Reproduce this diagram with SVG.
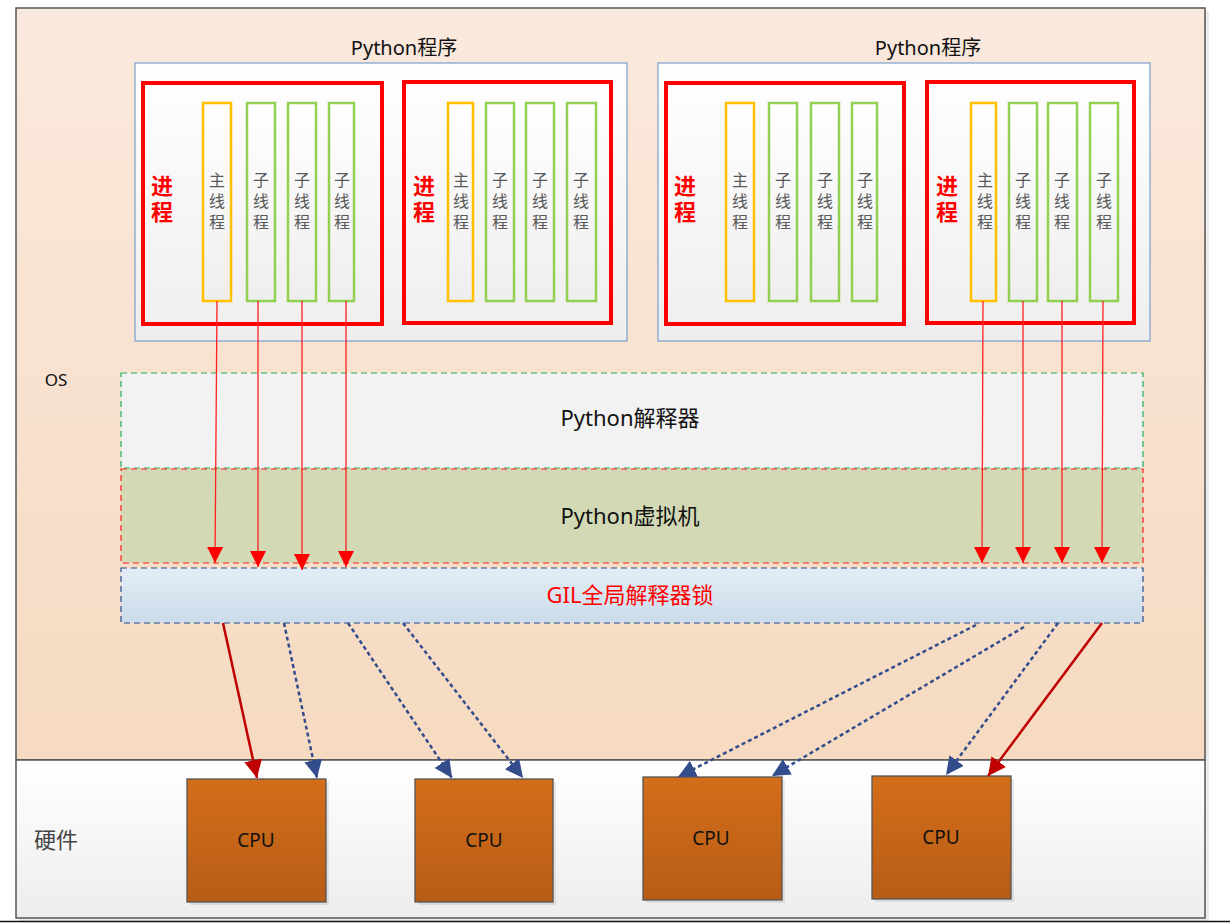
<svg xmlns="http://www.w3.org/2000/svg" width="1230" height="923" viewBox="0 0 1230 923">
<defs>
<linearGradient id="gOS" x1="0" y1="0" x2="0" y2="1"><stop offset="0" stop-color="#fae9dd"/><stop offset="1" stop-color="#f6dac1"/></linearGradient>
<linearGradient id="gHW" x1="0" y1="0" x2="0" y2="1"><stop offset="0" stop-color="#ffffff"/><stop offset="1" stop-color="#ededed"/></linearGradient>
<linearGradient id="gWhite" x1="0" y1="0" x2="0" y2="1"><stop offset="0" stop-color="#ffffff"/><stop offset="1" stop-color="#eeeeee"/></linearGradient>
<linearGradient id="gGIL" x1="0" y1="0" x2="0" y2="1"><stop offset="0" stop-color="#e3ecf6"/><stop offset="1" stop-color="#cbdcea"/></linearGradient>
<linearGradient id="gCPU" x1="0" y1="0" x2="0" y2="1"><stop offset="0" stop-color="#d36e1a"/><stop offset="1" stop-color="#b75c16"/></linearGradient>
<marker id="aRed" viewBox="0 0 16 16" refX="16" refY="8" markerWidth="16" markerHeight="16" orient="auto" markerUnits="userSpaceOnUse"><path d="M0,0 L16,8 L0,16 z" fill="#ff0000"/></marker>
<marker id="aDark" viewBox="0 0 16 16" refX="16" refY="8" markerWidth="18" markerHeight="18" orient="auto" markerUnits="userSpaceOnUse"><path d="M0,0 L16,8 L0,16 z" fill="#c00000"/></marker>
<marker id="aBlue" viewBox="0 0 16 16" refX="16" refY="8" markerWidth="18" markerHeight="18" orient="auto" markerUnits="userSpaceOnUse"><path d="M0,0 L16,8 L0,16 z" fill="#334d8c"/></marker>
</defs>
<style>
text{font-family:"Noto Sans","Noto Sans CJK SC",sans-serif;}
.title{font-size:20px;fill:#111;text-anchor:middle;}
.prog{fill:url(#gWhite);stroke:#7b9fcc;stroke-width:1.2;}
.proc{fill:none;stroke:#ff0000;stroke-width:4;}
.procT{font-size:22px;font-weight:bold;fill:#ff0000;text-anchor:middle;font-family:"Noto Sans CJK SC",sans-serif;writing-mode:vertical-rl;letter-spacing:4px;}
.main{fill:url(#gWhite);stroke:#ffc000;stroke-width:2.5;}
.sub{fill:url(#gWhite);stroke:#92d050;stroke-width:2.5;}
.thT{font-size:16px;fill:#595959;text-anchor:middle;font-family:"Noto Sans CJK SC",sans-serif;writing-mode:vertical-rl;letter-spacing:5px;}
.shadow{fill:#000;opacity:0.08;}
.layT{font-size:22px;fill:#111;text-anchor:middle;}
.cpu{fill:url(#gCPU);stroke:#555;stroke-width:1.3;}
.cpuT{font-size:19px;fill:#111;text-anchor:middle;}
.vline{stroke:#ff2020;stroke-width:1.3;fill:none;marker-end:url(#aRed);}
.rline{stroke:#c00000;stroke-width:2.5;fill:none;marker-end:url(#aDark);}
.bline{stroke:#334d8c;stroke-width:2.5;stroke-dasharray:4 3;fill:none;marker-end:url(#aBlue);}
</style>
<rect width="1230" height="923" fill="#ffffff"/>
<g id="os">
<rect x="19" y="11" width="1190" height="752" fill="#000" opacity="0.08"/>
<rect x="16" y="8" width="1189" height="752" fill="url(#gOS)" stroke="#555" stroke-width="1.5"/>
<text x="56" y="386" font-size="17" fill="#111" text-anchor="middle">OS</text>
</g>
<g id="hardware">
<rect x="19" y="763" width="1190" height="158" fill="#000" opacity="0.08"/>
<rect x="16" y="760" width="1189" height="158" fill="url(#gHW)" stroke="#555" stroke-width="1.5"/>
<text x="56" y="848" font-size="22" fill="#444" text-anchor="middle" font-family="Noto Sans CJK SC,sans-serif">硬件</text>
</g>
<line x1="0" y1="921.5" x2="1230" y2="921.5" stroke="#111" stroke-width="1.5"/>

<g id="program1">
<text class="title" x="404" y="55">Python程序</text>
<rect class="prog" x="135" y="63" width="492" height="278"/>
<g id="process1">
<rect class="proc" x="143" y="83" width="239" height="241"/>
<text class="procT" x="162" y="201">进程</text>
<g id="t1m"><rect class="main" x="203" y="103" width="28" height="198"/><text class="thT" x="217" y="203">主线程</text></g>
<g id="t1a"><rect class="sub" x="247" y="103" width="28" height="198"/><text class="thT" x="261" y="203">子线程</text></g>
<g id="t1b"><rect class="sub" x="288" y="103" width="28" height="198"/><text class="thT" x="302" y="203">子线程</text></g>
<g id="t1c"><rect class="sub" x="329" y="103" width="25" height="198"/><text class="thT" x="342" y="203">子线程</text></g>
</g>
<g id="process2">
<rect class="proc" x="404" y="82" width="207" height="241"/>
<text class="procT" x="424" y="201">进程</text>
<g id="t2m"><rect class="main" x="448" y="103" width="25" height="198"/><text class="thT" x="461" y="203">主线程</text></g>
<g id="t2a"><rect class="sub" x="486" y="103" width="28" height="198"/><text class="thT" x="500" y="203">子线程</text></g>
<g id="t2b"><rect class="sub" x="526" y="103" width="28" height="198"/><text class="thT" x="540" y="203">子线程</text></g>
<g id="t2c"><rect class="sub" x="567" y="103" width="29" height="198"/><text class="thT" x="581" y="203">子线程</text></g>
</g>
</g>

<g id="program2">
<text class="title" x="928" y="55">Python程序</text>
<rect class="prog" x="658" y="63" width="492" height="278"/>
<g id="process3">
<rect class="proc" x="666" y="83" width="238" height="241"/>
<text class="procT" x="685" y="201">进程</text>
<g id="t3m"><rect class="main" x="726" y="103" width="28" height="198"/><text class="thT" x="740" y="203">主线程</text></g>
<g id="t3a"><rect class="sub" x="769" y="103" width="28" height="198"/><text class="thT" x="783" y="203">子线程</text></g>
<g id="t3b"><rect class="sub" x="811" y="103" width="28" height="198"/><text class="thT" x="825" y="203">子线程</text></g>
<g id="t3c"><rect class="sub" x="852" y="103" width="25" height="198"/><text class="thT" x="865" y="203">子线程</text></g>
</g>
<g id="process4">
<rect class="proc" x="927" y="82" width="207" height="241"/>
<text class="procT" x="947" y="201">进程</text>
<g id="t4m"><rect class="main" x="971" y="103" width="25" height="198"/><text class="thT" x="985" y="203">主线程</text></g>
<g id="t4a"><rect class="sub" x="1009" y="103" width="28" height="198"/><text class="thT" x="1023" y="203">子线程</text></g>
<g id="t4b"><rect class="sub" x="1048" y="103" width="29" height="198"/><text class="thT" x="1062" y="203">子线程</text></g>
<g id="t4c"><rect class="sub" x="1090" y="103" width="28" height="198"/><text class="thT" x="1104" y="203">子线程</text></g>
</g>
</g>

<g id="interpreter">
<rect x="121" y="373" width="1022" height="95" fill="#f2f2f2" stroke="#22b05a" stroke-width="1.2" stroke-dasharray="6 4"/>
<text class="layT" x="630" y="426">Python解释器</text>
</g>
<g id="vm">
<rect x="121" y="469" width="1022" height="94" fill="#d2d9b4" stroke="#ff2020" stroke-width="1.2" stroke-dasharray="6 4"/>
<text class="layT" x="630" y="524">Python虚拟机</text>
</g>
<g id="gil">
<rect x="121" y="568" width="1022" height="55" fill="url(#gGIL)" stroke="#2a4a86" stroke-width="1.2" stroke-dasharray="6 4"/>
<text class="layT" x="630" y="603" style="fill:#ff0000">GIL全局解释器锁</text>
</g>

<g id="cpu1"><rect x="190" y="782" width="139" height="123" class="shadow"/><rect class="cpu" x="187" y="779" width="139" height="123"/><text class="cpuT" x="256" y="847">CPU</text></g>
<g id="cpu2"><rect x="418" y="782" width="138" height="123" class="shadow"/><rect class="cpu" x="415" y="779" width="138" height="123"/><text class="cpuT" x="484" y="847">CPU</text></g>
<g id="cpu3"><rect x="646" y="780" width="139" height="123" class="shadow"/><rect class="cpu" x="643" y="777" width="139" height="123"/><text class="cpuT" x="711" y="845">CPU</text></g>
<g id="cpu4"><rect x="875" y="779" width="139" height="123" class="shadow"/><rect class="cpu" x="872" y="776" width="139" height="123"/><text class="cpuT" x="941" y="844">CPU</text></g>

<g id="connectors">
<path class="vline" d="M217,301 L215,563"/>
<path class="vline" d="M258,301 L258,567"/>
<path class="vline" d="M302,301 L302,570"/>
<path class="vline" d="M346,301 L346,567"/>
<path class="vline" d="M983,301 L982,563"/>
<path class="vline" d="M1023,301 L1023,563"/>
<path class="vline" d="M1062,301 L1062,563"/>
<path class="vline" d="M1103,301 L1102,563"/>
<path class="rline" d="M223,623 L257,778"/>
<path class="bline" d="M284,623 L317,778"/>
<path class="bline" d="M348,623 L452,778"/>
<path class="bline" d="M403,623 L523,778"/>
<path class="bline" d="M976,625 L678,777"/>
<path class="bline" d="M1024,627 L772,776"/>
<path class="bline" d="M1058,623 L946,775"/>
<path class="rline" d="M1102,623 L988,776"/>
</g>
</svg>
